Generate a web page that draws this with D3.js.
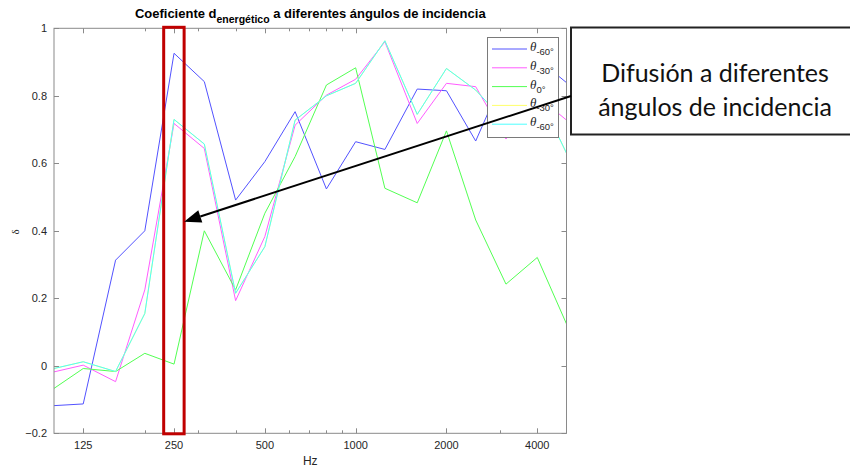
<!DOCTYPE html>
<html>
<head>
<meta charset="utf-8">
<script src="https://cdn.jsdelivr.net/npm/d3@7"></script>
<style>
  body { margin: 0; background: #fff; }
  svg { display: block; }
</style>
</head>
<body>
<svg id="chart" width="850" height="468"></svg>
<script>
const freqs = [100, 125, 160, 200, 250, 315, 400, 500, 630, 800, 1000, 1250, 1600, 2000, 2500, 3150, 4000, 5000]

const thetaM60 = [-0.118, -0.113, 0.313, 0.40, 0.926, 0.842, 0.491, 0.605, 0.753, 0.524, 0.664, 0.641, 0.82, 0.815, 0.666, 0.87, 0.91, 0.839]
const thetaM30 = [-0.018, 0.002, -0.047, 0.225, 0.718, 0.644, 0.193, 0.383, 0.713, 0.802, 0.849, 0.96, 0.718, 0.837, 0.827, 0.672, 0.80, 0.728]
const theta0 = [-0.067, -0.008, -0.017, 0.037, 0.005, 0.40, 0.225, 0.452, 0.62, 0.832, 0.883, 0.526, 0.483, 0.696, 0.432, 0.242, 0.321, 0.124]
// yellow one is fully hidden below the cyan one
const theta30 = [-0.008, 0.012, -0.017, 0.155, 0.73, 0.657, 0.215, 0.353, 0.728, 0.80, 0.837, 0.963, 0.745, 0.881, 0.817, 0.72, 0.81, 0.63]
const theta60 = [-0.008, 0.012, -0.017, 0.155, 0.73, 0.657, 0.215, 0.353, 0.728, 0.80, 0.837, 0.963, 0.745, 0.881, 0.817, 0.72, 0.81, 0.63]

const seriesNames = ['-60°', '-30°', '0°', '-30°', '-60°']
const seriesColors = ['#5252ff', '#ff5cff', '#52ff52', '#ffff6a', '#4dffff']
const seriesValues = [thetaM60, thetaM30, theta0, theta30, theta60]

const xMajor = [125, 250, 500, 1000, 2000, 4000]
const xMinor = [200, 300, 400, 600, 700, 800, 900, 3000]
const yTicks = [-0.2, 0, 0.2, 0.4, 0.6, 0.8, 1]

const highlightBand = [231, 270]
const arrowTarget = [270, 0.427]

const plotLeft = 54, plotRight = 566.5, plotTop = 28.3, plotBottom = 433.3
const axisColor = '#8a8a8a', textColor = '#262626'

const svg = d3.select('#chart')

const x = d3.scaleLog().domain([100, 5000]).range([plotLeft, plotRight])
const y = d3.scaleLinear().domain([-0.2, 1]).range([plotBottom, plotTop])

// ticks (inward, all four sides)
const g = svg.append('g')
const tickLine = (x1, y1, x2, y2) => g.append('line')
    .attr('x1', x1).attr('y1', y1).attr('x2', x2).attr('y2', y2)
    .attr('stroke', axisColor).attr('stroke-width', 1)

xMajor.forEach(f => {
    const px = Math.round(x(f)) + 0.5
    tickLine(px, plotBottom, px, plotBottom - 5)
    tickLine(px, plotTop, px, plotTop + 5)
})
xMinor.forEach(f => {
    const px = Math.round(x(f)) + 0.5
    tickLine(px, plotBottom, px, plotBottom - 3)
    tickLine(px, plotTop, px, plotTop + 3)
})
yTicks.forEach(v => {
    const py = Math.round(y(v)) + 0.5
    tickLine(plotLeft, py, plotLeft + 5, py)
    tickLine(plotRight, py, plotRight - 5, py)
})

g.selectAll('.xlab')
    .data(xMajor)
    .enter()
    .append('text')
    .attr('x', d => x(d))
    .attr('y', 449)
    .attr('text-anchor', 'middle')
    .style('font', '11px "Liberation Sans", Arial, sans-serif')
    .style('fill', textColor)
    .text(d => d)

g.selectAll('.ylab')
    .data(yTicks)
    .enter()
    .append('text')
    .attr('x', 47)
    .attr('y', d => y(d) + 4)
    .attr('text-anchor', 'end')
    .style('font', '11px "Liberation Sans", Arial, sans-serif')
    .style('fill', textColor)
    .text(d => d3.format('~g')(d))

// lines
const line = d3.line()
    .x(d => x(d[0]))
    .y(d => y(d[1]))

svg.append('clipPath').attr('id', 'plot-clip')
    .append('rect')
    .attr('x', plotLeft).attr('y', plotTop)
    .attr('width', plotRight - plotLeft).attr('height', plotBottom - plotTop)

svg.append('g')
    .attr('clip-path', 'url(#plot-clip)')
    .selectAll('path')
    .data(seriesValues)
    .enter()
    .append('path')
    .attr('d', vals => line(vals.map((v, i) => [freqs[i], v])))
    .attr('fill', 'none')
    .attr('stroke', (d, i) => seriesColors[i])
    .attr('stroke-width', 1)

// box
svg.append('rect')
    .attr('x', plotLeft).attr('y', plotTop)
    .attr('width', plotRight - plotLeft).attr('height', plotBottom - plotTop)
    .attr('fill', 'none')
    .attr('stroke', axisColor)
    .attr('stroke-width', 1)

// title
const title = svg.append('text')
    .attr('x', (plotLeft + plotRight) / 2)
    .attr('y', 18)
    .attr('text-anchor', 'middle')
    .style('font', 'bold 13px "Liberation Sans", Arial, sans-serif')
    .style('fill', '#000')
title.append('tspan').text('Coeficiente d')
title.append('tspan').attr('dy', 4.5).style('font-size', '10.5px').text('energético')
title.append('tspan').attr('dy', -4.5).text(' a diferentes ángulos de incidencia')

svg.append('text')
    .attr('x', (plotLeft + plotRight) / 2)
    .attr('y', 465)
    .attr('text-anchor', 'middle')
    .style('font', '12px "Liberation Sans", Arial, sans-serif')
    .style('fill', textColor)
    .text('Hz')

svg.append('text')
    .attr('transform', 'translate(19,232) rotate(-90)')
    .attr('text-anchor', 'middle')
    .style('font', '11px "Liberation Serif", serif')
    .style('fill', textColor)
    .text('δ')

// legend
const legend = svg.append('g').attr('transform', 'translate(487,37)')
legend.append('rect')
    .attr('x', 0.5).attr('y', 0.5)
    .attr('width', 71).attr('height', 100)
    .attr('fill', '#fff')
    .attr('stroke', '#7a7a7a')
    .attr('stroke-width', 1)

seriesNames.forEach((name, i) => {
    const ly = 12 + i * 18.8
    legend.append('line')
        .attr('x1', 5).attr('x2', 40)
        .attr('y1', ly).attr('y2', ly)
        .attr('stroke', seriesColors[i])
        .attr('stroke-width', 1)
    const t = legend.append('text')
        .attr('x', 43)
        .attr('y', ly + 2)
        .style('fill', textColor)
    t.append('tspan')
        .style('font', 'italic 13px "Liberation Serif", serif')
        .text('θ')
    t.append('tspan')
        .attr('dy', 4)
        .style('font', '9.5px "Liberation Sans", Arial, sans-serif')
        .text(name)
})

// highlight around 250 Hz
svg.append('rect')
    .attr('x', x(highlightBand[0]))
    .attr('y', plotTop - 1)
    .attr('width', x(highlightBand[1]) - x(highlightBand[0]))
    .attr('height', plotBottom - plotTop + 1.5)
    .attr('fill', 'none')
    .attr('stroke', '#c00000')
    .attr('stroke-width', 3)

// note box
const noteX = 571, noteY = 27.5
svg.append('rect')
    .attr('x', noteX).attr('y', noteY)
    .attr('width', 300).attr('height', 107)
    .attr('fill', '#fff')
    .attr('stroke', '#222')
    .attr('stroke-width', 2)

const note = svg.append('text')
    .attr('text-anchor', 'middle')
    .style('font', '25px Lato, "Noto Sans", sans-serif')
    .style('fill', '#111')
note.append('tspan').attr('x', 715).attr('y', 82).text('Difusión a diferentes')
note.append('tspan').attr('x', 715).attr('y', 115.5).text('ángulos de incidencia')

// arrow from note box to the highlight
const tip = [x(arrowTarget[0]), y(arrowTarget[1])]
const tail = [noteX, 96]
const ang = Math.atan2(tip[1] - tail[1], tip[0] - tail[0])
const headLen = 17, headW = 6.5
const base = [tip[0] - headLen * Math.cos(ang), tip[1] - headLen * Math.sin(ang)]
svg.append('line')
    .attr('x1', tail[0]).attr('y1', tail[1])
    .attr('x2', base[0]).attr('y2', base[1])
    .attr('stroke', '#000')
    .attr('stroke-width', 2)
svg.append('polygon')
    .attr('points', [
        tip,
        [base[0] + headW * Math.sin(ang), base[1] - headW * Math.cos(ang)],
        [base[0] - headW * Math.sin(ang), base[1] + headW * Math.cos(ang)]
    ].map(p => p.join(',')).join(' '))
    .attr('fill', '#000')
</script>
</body>
</html>
